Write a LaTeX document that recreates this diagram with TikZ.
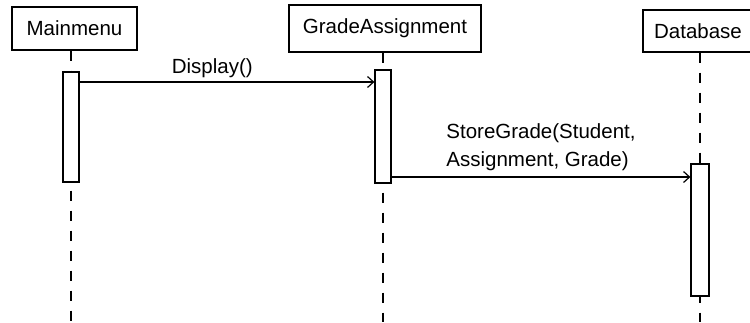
\documentclass[tikz,border=0pt]{standalone}
\usepackage{fontspec}
\setmainfont{Liberation Sans}
\usetikzlibrary{arrows.meta}
\begin{document}
\begin{tikzpicture}[x=1pt, y=-1pt, font=\fontsize{20.5}{28}\selectfont]
    \tikzstyle{obj}=[draw, line width=1.2pt, inner sep=0pt, minimum height=43pt]
    \tikzstyle{bar}=[draw, fill=white, line width=1.2pt, minimum width=16pt, inner sep=0pt]
    \tikzstyle{life}=[line width=1.2pt, dash pattern=on 10pt off 10pt]
    \tikzstyle{msg}=[line width=1.2pt, -{Straight Barb[length=6pt,width=11pt]}]

    \useasboundingbox (0,0) rectangle (750,322);

    \node[obj, minimum width=125pt] (main) at (74.5,28.5) {Mainmenu};
    \node[obj, minimum width=192pt, minimum height=47pt] (grade) at (385,28.5) {GradeAssignment};
    \node[obj, minimum width=110pt, minimum height=42pt] (db) at (698,31) {Database};

    \coordinate (mainend) at (71,322);
    \coordinate (gradeend) at (383,322);
    \coordinate (dbend) at (700,322);

    \draw[life] (main.south -| mainend) -- (mainend);
    \draw[life] (grade.south -| gradeend) -- (gradeend);
    \draw[life] (db.south -| dbend) -- (dbend);

    \node[bar, minimum height=110pt] (mainbar) at (71,127) {};
    \node[bar, minimum height=113pt] (gradebar) at (383,126.5) {};
    \node[bar, minimum height=132pt, minimum width=18pt] (dbbar) at (700,230) {};

    \coordinate (display) at (0,82);
    \coordinate (store) at (0,177);

    \path[msg] (mainbar.east |- display) edge node[pos=0.45, above] {Display()} (gradebar.west |- display);
    \path[msg] (gradebar.east |- store) edge node[above, align=left, yshift=2pt] {StoreGrade(Student,\\Assignment, Grade)} (dbbar.west |- store);
\end{tikzpicture}
\end{document}
